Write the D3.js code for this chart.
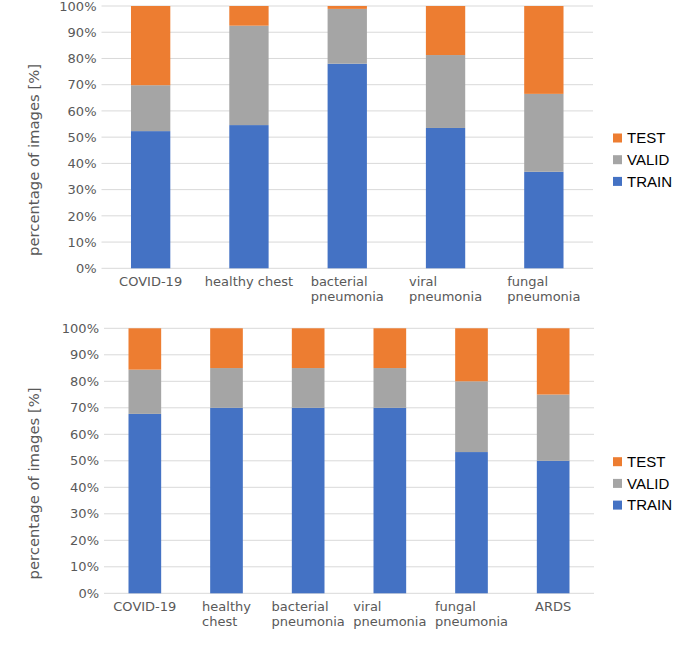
<!DOCTYPE html>
<html>
<head>
<meta charset="utf-8">
<script src="https://cdn.jsdelivr.net/npm/d3@7"></script>
<style>
  body { margin: 0; background: #fff; }
  svg { display: block; }
</style>
</head>
<body>
<svg id="chart" width="685" height="645"></svg>
<script>
// ---- data ----
const seriesNames = ["TRAIN", "VALID", "TEST"];
const seriesColors = ["#4472C4", "#A5A5A5", "#ED7D31"];
const yTicks = [0, 10, 20, 30, 40, 50, 60, 70, 80, 90, 100];

const topCategories = [["COVID-19"], ["healthy chest"], ["bacterial", "pneumonia"], ["viral", "pneumonia"], ["fungal", "pneumonia"]];
const topTrain = [52.3, 54.6, 78.0, 53.5, 36.8];
const topValid = [17.5, 37.9, 20.9, 27.8, 29.7];
const topTest  = [30.2, 7.5, 1.1, 18.7, 33.5];

const botCategories = [["COVID-19"], ["healthy", "chest"], ["bacterial", "pneumonia"], ["viral", "pneumonia"], ["fungal", "pneumonia"], ["ARDS"]];
const botTrain = [67.7, 70, 70, 70, 53.3, 50];
const botValid = [16.7, 15, 15, 15, 26.7, 25];
const botTest  = [15.6, 15, 15, 15, 20, 25];

const svg = d3.select("#chart");
const textGrey = "#595959";

function drawChart(cfg) {
  const { categories, values, x0, x1, yTop, yBot, labelY, legendY, titleY } = cfg;
  const g = svg.append("g");
  const x = d3.scaleBand().domain(d3.range(categories.length)).range([x0, x1]).paddingInner(0.6).paddingOuter(0.3);
  const y = d3.scaleLinear().domain([0, 100]).range([yBot, yTop]);

  // gridlines
  g.append("g").selectAll("line").data(yTicks).join("line")
    .attr("x1", x0).attr("x2", x1)
    .attr("y1", d => y(d)).attr("y2", d => y(d))
    .attr("stroke", "#D9D9D9").attr("stroke-width", 1);

  // y axis tick labels
  const yAxis = d3.axisLeft(y).tickValues(yTicks).tickFormat(d => d + "%").tickSize(0).tickPadding(0);
  const ya = g.append("g").attr("transform", `translate(${x0 - 5},0)`).call(yAxis);
  ya.select(".domain").remove();
  ya.selectAll("text").attr("fill", textGrey).style("font-family", "DejaVu Sans").style("font-size", "13px");

  // stacked
  const rows = categories.map((c, i) => ({ i, TRAIN: values[0][i], VALID: values[1][i], TEST: values[2][i] }));
  const stack = d3.stack().keys(seriesNames)(rows);
  g.append("g").selectAll("g").data(stack).join("g")
    .attr("fill", (d, k) => seriesColors[k])
    .selectAll("rect").data(d => d).join("rect")
    .attr("x", d => x(d.data.i))
    .attr("width", x.bandwidth())
    .attr("y", d => y(Math.min(100, d[1])))
    .attr("height", d => y(d[0]) - y(Math.min(100, d[1])));

  // x labels (multi-line, left aligned block centred on band)
  categories.forEach((lines, i) => {
    const cx = x(i) + x.bandwidth() / 2;
    const t = g.append("text").attr("fill", textGrey)
      .style("font-family", "DejaVu Sans").style("font-size", "13px");
    lines.forEach((ln, j) => {
      t.append("tspan").attr("y", labelY + j * 15).text(ln);
    });
    const spans = t.selectAll("tspan").nodes();
    const w = d3.max(spans, n => n.getComputedTextLength());
    t.selectAll("tspan").attr("x", cx - w / 2);
  });

  // y title
  g.append("text")
    .attr("transform", `translate(38.5,${titleY}) rotate(-90)`)
    .attr("text-anchor", "middle")
    .attr("fill", textGrey)
    .style("font-family", "DejaVu Sans").style("font-size", "14.8px")
    .text("percentage of images [%]");

  // legend
  const legOrder = [2, 1, 0];
  legOrder.forEach((k, j) => {
    const cy = legendY + j * 21.7;
    g.append("rect").attr("x", 613).attr("y", cy - 4.5).attr("width", 9).attr("height", 9).attr("fill", seriesColors[k]);
    g.append("text").attr("x", 627).attr("y", cy + 5.3)
      .attr("fill", "#000")
      .style("font-family", "Liberation Sans").style("font-size", "15px")
      .text(seriesNames[k]);
  });
}

drawChart({
  categories: topCategories,
  values: [topTrain, topValid, topTest],
  x0: 101.5, x1: 593, yTop: 6, yBot: 268.3,
  labelY: 286, legendY: 138, titleY: 160
});
drawChart({
  categories: botCategories,
  values: [botTrain, botValid, botTest],
  x0: 104, x1: 594, yTop: 328.3, yBot: 593.3,
  labelY: 611, legendY: 461.7, titleY: 483.5
});
</script>
</body>
</html>
